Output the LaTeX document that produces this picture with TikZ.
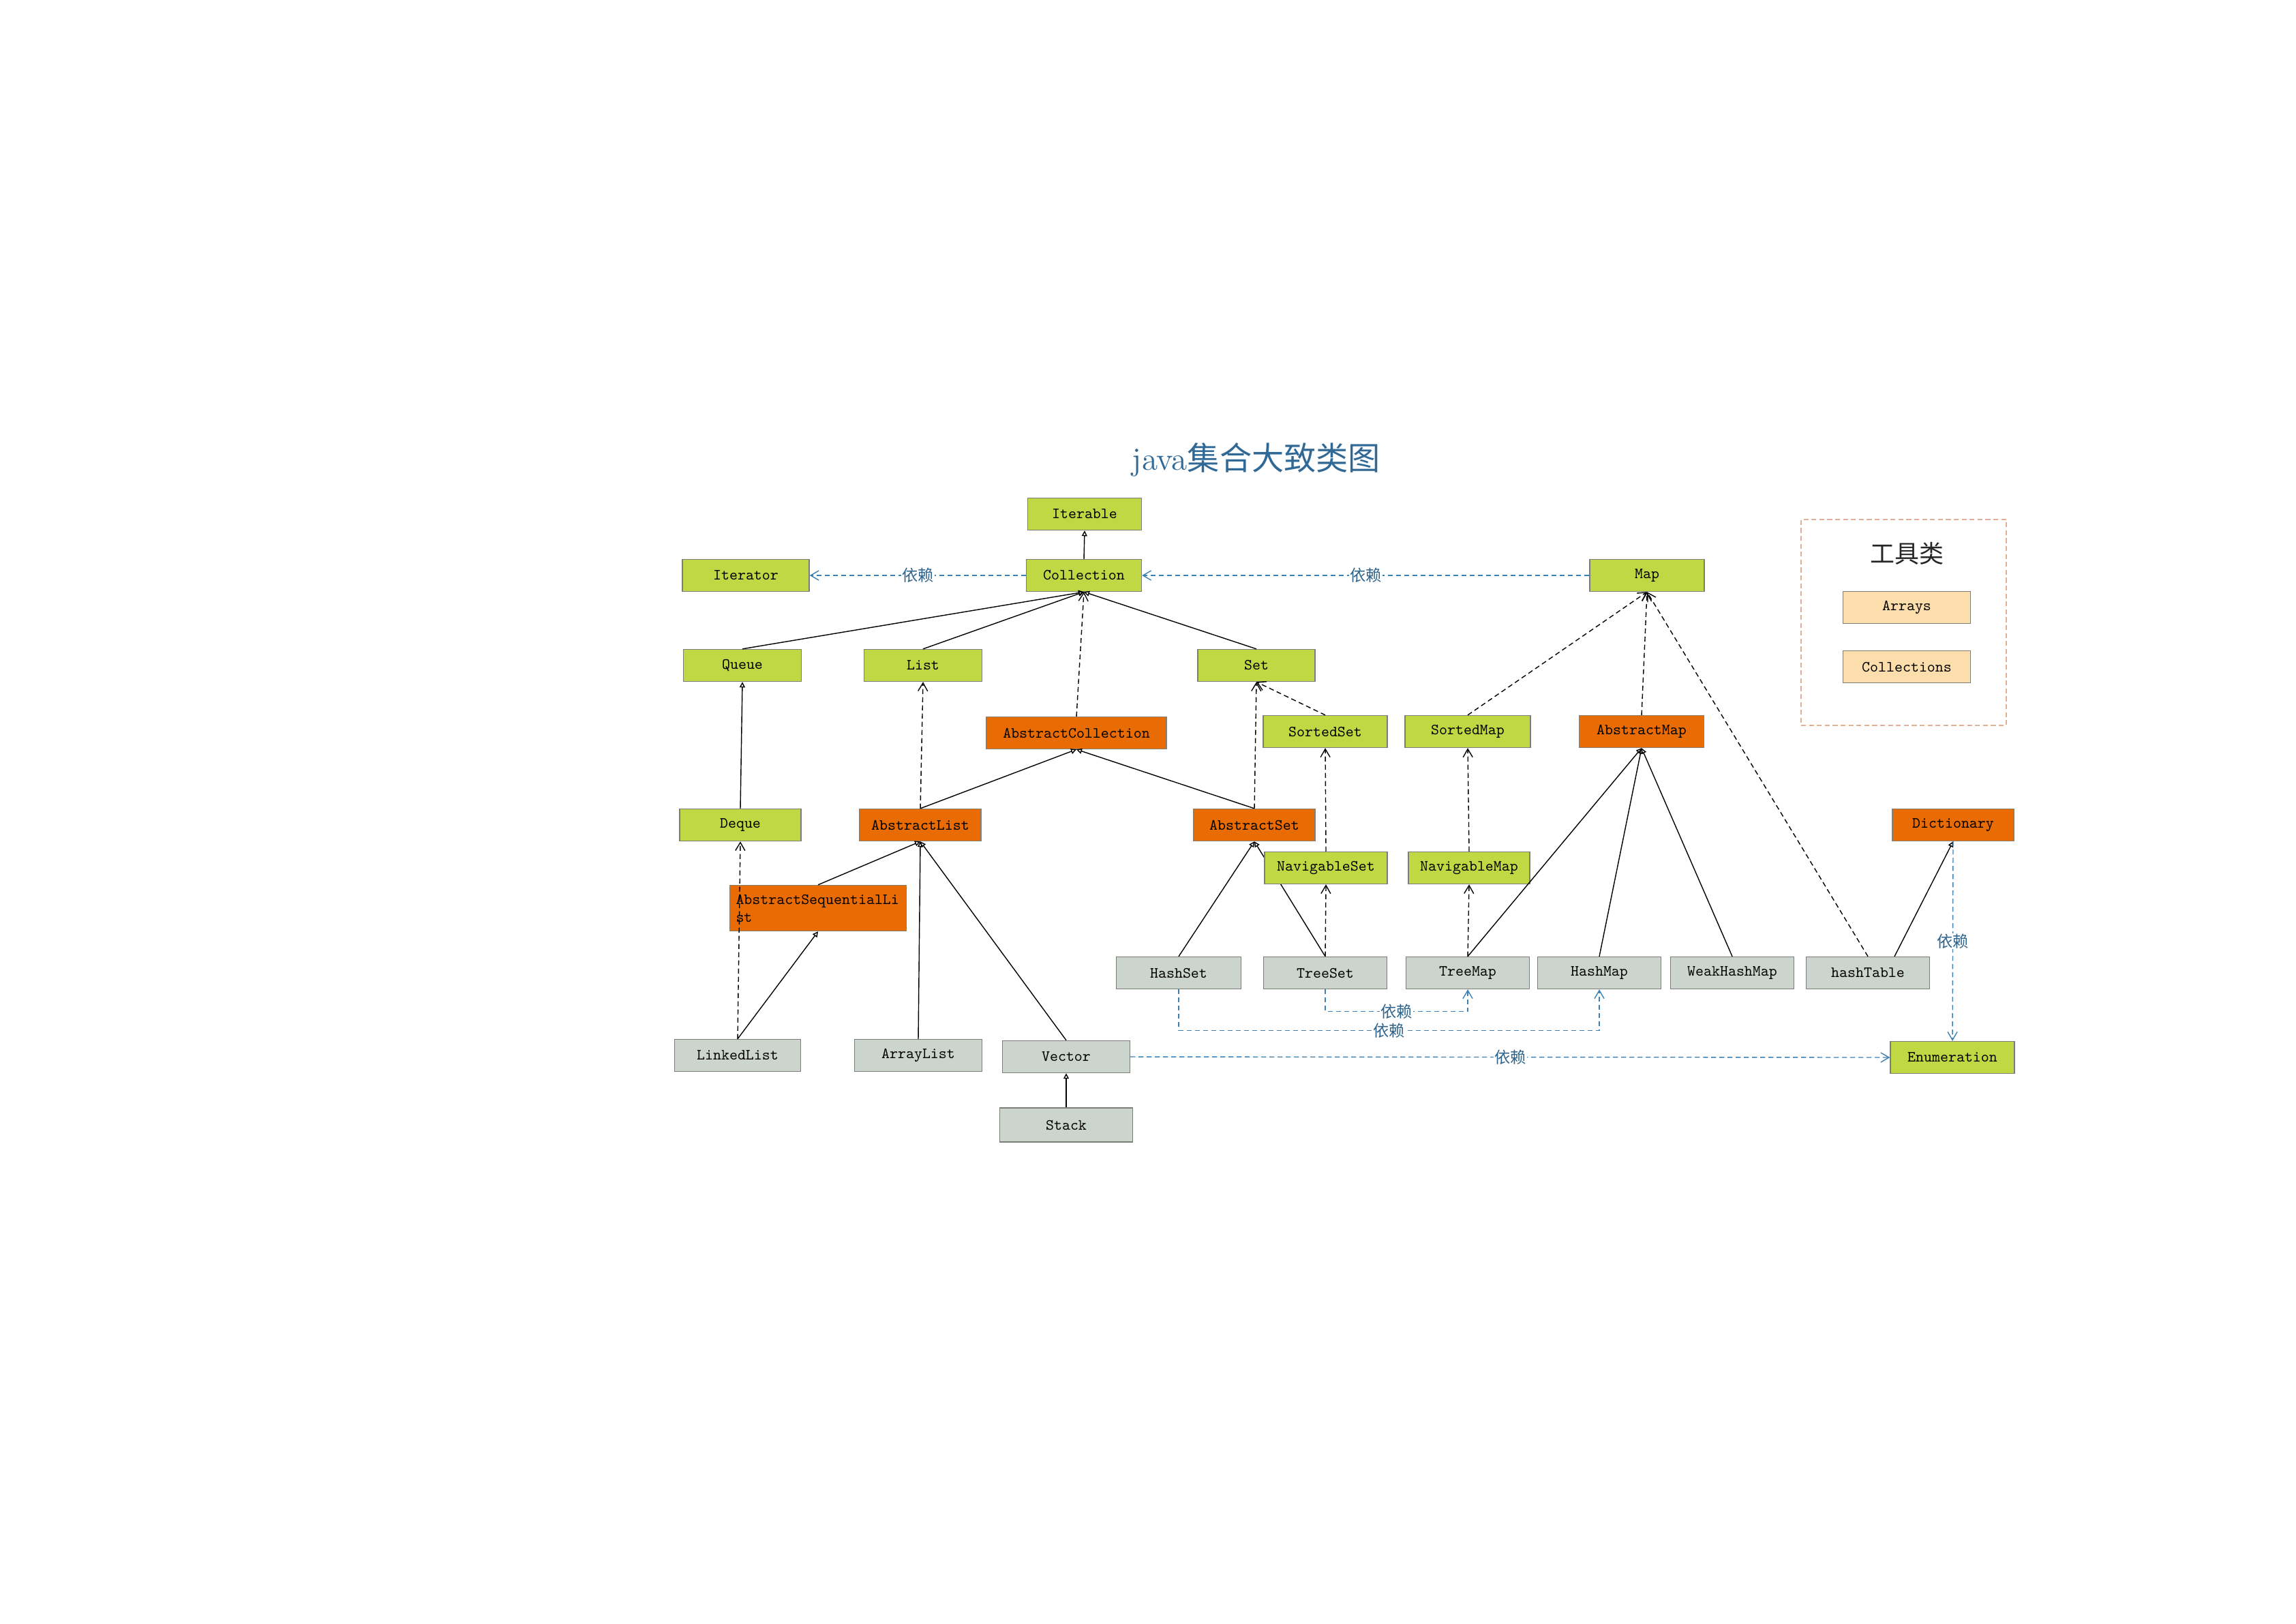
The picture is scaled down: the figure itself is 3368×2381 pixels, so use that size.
\documentclass[tikz,border=0pt]{standalone}
\usepackage{fontspec}
\newfontfamily\cjk{Noto Sans CJK SC}
\newfontfamily\boxfont{lmmono10-regular.otf}
\usepackage{xcolor}
\usepackage{tikz}
\usetikzlibrary{arrows.meta}
\usetikzlibrary{backgrounds}

\definecolor{ifgreen}{RGB}{193,216,69}
\definecolor{absorange}{RGB}{233,107,3}
\definecolor{implgray}{RGB}{204,212,206}
\definecolor{toolpeach}{RGB}{252,222,172}
\definecolor{boxline}{RGB}{125,125,120}
\definecolor{depblue}{RGB}{62,128,178}
\definecolor{deptext}{RGB}{46,100,140}
\definecolor{titleblue}{RGB}{49,105,150}
\definecolor{toolframe}{RGB}{225,175,150}

\begin{document}
\begin{tikzpicture}[x=0.25pt, y=-0.25pt,
	box/.style={rectangle, draw=boxline, line width=0.35pt, minimum height=11.75pt, inner sep=1pt, font=\boxfont\fontsize{5.7}{6.5}\selectfont},
	intf/.style={box, fill=ifgreen, minimum width=#1}, intf/.default=45pt,
	abst/.style={box, fill=absorange, draw=boxline!80!brown, minimum width=#1}, abst/.default=44.5pt,
	impl/.style={box, fill=implgray, minimum width=#1}, impl/.default=45.25pt,
	tool/.style={box, fill=toolpeach, minimum width=46.75pt},
	extends/.style={line width=0.35pt, -{Triangle[open, length=2pt, width=2pt]}},
	implements/.style={line width=0.35pt, dash pattern=on 1.8pt off 1.2pt, -{Straight Barb[length=3pt, width=3.5pt]}},
	depends/.style={depblue, line width=0.35pt, dash pattern=on 1.8pt off 1.2pt, -{Straight Barb[length=3pt, width=3.5pt]}},
	deplabel/.style={fill=white, inner sep=0.3pt, text=deptext, font=\cjk\fontsize{5.8}{6}\selectfont}]
			\useasboundingbox (0,0) rectangle (3368,2381);
			\node[text=titleblue, font=\fontsize{11.8}{13}\selectfont] (title) at (1843,674) {java{\cjk 集合大致类图}};
			
			\node[intf=41.75pt] (iterable) at (1591,754) {Iterable};
			\node[intf=42.25pt] (collection) at (1590,844) {Collection};
			\node[intf=46.5pt] (iterator) at (1094,844) {Iterator};
			\node[intf=42pt] (map) at (2416,844) {Map};
			\node[intf=43.25pt] (queue) at (1089,976) {Queue};
			\node[intf=43.25pt] (list) at (1354,976) {List};
			\node[intf=43pt] (set) at (1843,976) {Set};
			\node[abst=66pt] (abscol) at (1579,1075) {AbstractCollection};
			\node[intf=45.5pt] (sortedset) at (1944,1073) {SortedSet};
			\node[intf=46pt] (sortedmap) at (2153,1073) {SortedMap};
			\node[abst=45.75pt] (absmap) at (2408,1073) {AbstractMap};
			\node[intf=44.5pt] (deque) at (1086,1210) {Deque};
			\node[abst] (abslist) at (1350,1210) {AbstractList};
			\node[abst] (absset) at (1840,1210) {AbstractSet};
			\node[abst] (dictionary) at (2865,1210) {Dictionary};
			\node[abst=64.75pt, minimum height=16.75pt, text width=60.25pt, align=left] (absseq) at (1200,1332) {AbstractSequentialLi\\st};
			\node[intf] (navset) at (1945,1273) {NavigableSet};
			\node[intf=44.5pt] (navmap) at (2155,1273) {NavigableMap};
			\node[impl=45.75pt] (hashset) at (1729,1427) {HashSet};
			\node[impl] (treeset) at (1944,1427) {TreeSet};
			\node[impl] (treemap) at (2153,1427) {TreeMap};
			\node[impl] (hashmap) at (2346,1427) {HashMap};
			\node[impl] (weakhashmap) at (2541,1427) {WeakHashMap};
			\node[impl] (hashtable) at (2740,1427) {hashTable};
			\node[impl=46.25pt] (linkedlist) at (1082,1548) {LinkedList};
			\node[impl=46.75pt] (arraylist) at (1347,1548) {ArrayList};
			\node[impl=46.75pt] (vector) at (1564,1550) {Vector};
			\node[impl=48.75pt, minimum height=12.5pt] (stack) at (1564,1650) {Stack};
			\node[intf=45.5pt] (enumeration) at (2864,1551) {Enumeration};
			
			% Tool classes
			\node[draw=toolframe, line width=0.35pt, dash pattern=on 1.8pt off 1.1pt, minimum width=75.25pt, minimum height=75.5pt] (toolbox) at (2792.5,913) {};
			\node[text=black!85, font=\cjk\fontsize{9}{10}\selectfont] (tooltitle) at (2797,812) {工具类};
			\node[tool] (arrays) at (2797,891) {Arrays};
			\node[tool] (collections) at (2797,978) {Collections};
			
			% Draw arrows
			\draw[extends] (collection.north) -- (iterable.south);
			\draw[extends] (queue.north) -- (collection.south);
			\draw[extends] (list.north) -- (collection.south);
			\draw[extends] (set.north) -- (collection.south);
			\draw[extends] (deque.north) -- (queue.south);
			\draw[extends] (abslist.north) -- (abscol.south);
			\draw[extends] (absset.north) -- (abscol.south);
			\draw[extends] (absseq.north) -- (abslist.south);
			\draw[extends] (arraylist.north) -- (abslist.south);
			\draw[extends] (vector.north) -- (abslist.south);
			\draw[extends] (linkedlist.north) -- (absseq.south);
			\draw[extends] (stack.north) -- (vector.south);
			\draw[extends] (hashset.north) -- (absset.south);
			\begin{scope}[on background layer]
				\draw[extends] (treeset.north) -- (absset.south);
			\end{scope}
			\draw[extends] (treemap.north) -- (absmap.south);
			\draw[extends] (hashmap.north) -- (absmap.south);
			\draw[extends] (weakhashmap.north) -- (absmap.south);
			\draw[extends] ([xshift=9.75pt]hashtable.north) -- (dictionary.south);
			
			\draw[implements] (abscol.north) -- (collection.south);
			\draw[implements] (abslist.north) -- (list.south);
			\draw[implements] (absset.north) -- (set.south);
			\draw[implements] (sortedset.north) -- (set.south);
			\draw[implements] (navset.north) -- (sortedset.south);
			\draw[implements] (treeset.north) -- (navset.south);
			\draw[implements] (linkedlist.north) -- (deque.south);
			\draw[implements] (sortedmap.north) -- (map.south);
			\draw[implements] (navmap.north) -- (sortedmap.south);
			\draw[implements] (treemap.north) -- (navmap.south);
			\draw[implements] (absmap.north) -- (map.south);
			\draw[implements] (hashtable.north) -- (map.south);
			
			% Labels
			\draw[depends] (collection.west) -- node[deplabel] {依赖} (iterator.east);
			\draw[depends] (map.west) -- node[deplabel] {依赖} (collection.east);
			\draw[depends] (treeset.south) -- ++(0,32.5) -| node[deplabel, pos=0.25] {依赖} (treemap.south);
			\draw[depends] (hashset.south) -- ++(0,60.5) -| node[deplabel, pos=0.25] {依赖} (hashmap.south);
			\draw[depends] (vector.east) -- node[deplabel] {依赖} (enumeration.west);
			\draw[depends] (dictionary.south) -- node[deplabel] {依赖} (enumeration.north);
		\end{tikzpicture}
\end{document}
